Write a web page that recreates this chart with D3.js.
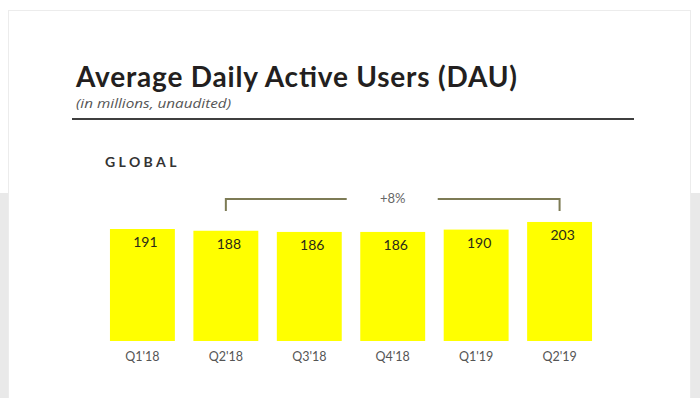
<!DOCTYPE html>
<html>
<head>
<meta charset="utf-8">
<script src="https://cdn.jsdelivr.net/npm/d3@7"></script>
<style>
  html, body { margin: 0; padding: 0; background: #ffffff; }
  svg { display: block; }
</style>
</head>
<body>
<svg id="chart" width="700" height="398"></svg>
<script>
const categories = ["Q1'18", "Q2'18", "Q3'18", "Q4'18", "Q1'19", "Q2'19"];
const dau = [191, 188, 186, 186, 190, 203];
const growthLabel = "+8%";
const growthFrom = "Q2'18";
const growthTo = "Q2'19";
const title = "Average Daily Active Users (DAU)";
const subtitle = "(in millions, unaudited)";
const region = "GLOBAL";

const svg = d3.select("#chart");
const W = 700, H = 398;

// page background / card
svg.append("rect").attr("x", 0).attr("y", 193).attr("width", W).attr("height", H - 193).attr("fill", "#e9e9e9");
svg.append("rect").attr("x", 8.5).attr("y", 10.5).attr("width", 682).attr("height", H)
  .attr("fill", "#ffffff").attr("stroke", "#ececec").attr("stroke-width", 1);

const font = "Lato, 'Open Sans', sans-serif";

// title
svg.append("text").attr("x", 76).attr("y", 87)
  .attr("font-family", font).attr("font-size", 28).attr("font-weight", 700)
  .attr("textLength", 441).attr("lengthAdjust", "spacing")
  .attr("fill", "#231f20").text(title);
svg.append("text").attr("x", 76).attr("y", 108)
  .attr("font-family", "'Open Sans', sans-serif").attr("font-size", 13.5).attr("font-style", "italic")
  .attr("textLength", 155).attr("lengthAdjust", "spacingAndGlyphs")
  .attr("fill", "#555").text(subtitle);
svg.append("line").attr("x1", 72).attr("x2", 634).attr("y1", 119).attr("y2", 119)
  .attr("stroke", "#3f3f3f").attr("stroke-width", 2);

svg.append("text").attr("x", 105).attr("y", 167)
  .attr("font-family", font).attr("font-size", 14).attr("font-weight", 700)
  .attr("letter-spacing", 3.4).attr("fill", "#333").text(region);

// scales
const x = d3.scaleBand().domain(categories).range([100.7, 601.3]).paddingInner(0.222).paddingOuter(0.111);
const y = d3.scaleLinear().domain([0, 220]).range([341, 212]);

const data = categories.map((c, i) => ({ c, v: dau[i] }));

svg.append("g").selectAll("rect").data(data).join("rect")
  .attr("x", d => x(d.c)).attr("width", x.bandwidth())
  .attr("y", d => y(d.v)).attr("height", d => y(0) - y(d.v))
  .attr("fill", "#ffff00");

svg.append("g").selectAll("text").data(data).join("text")
  .attr("x", d => x(d.c) + x.bandwidth() / 2 + 3)
  .attr("y", d => y(d.v) + 18)
  .attr("text-anchor", "middle")
  .attr("font-family", font).attr("font-size", 14)
  .attr("fill", "#2a2a1a").text(d => d.v);

// x axis labels
const xAxis = d3.axisBottom(x).tickSize(0).tickPadding(0);
const gx = svg.append("g").attr("transform", "translate(0,350)").call(xAxis);
gx.select(".domain").remove();
gx.selectAll("text").attr("font-family", font).attr("font-size", 12.5).attr("fill", "#555").attr("dy", "0.9em");

// bracket
const bx1 = x(growthFrom) + x.bandwidth() / 2;
const bx2 = x(growthTo) + x.bandwidth() / 2;
const by = 199, byEnd = 211;
const mid = (bx1 + bx2) / 2;
const bracketColor = "#7d7b55";
svg.append("path")
  .attr("d", `M${bx1},${byEnd}V${by}H${mid - 46}`)
  .attr("fill", "none").attr("stroke", bracketColor).attr("stroke-width", 2);
svg.append("path")
  .attr("d", `M${mid + 45},${by}H${bx2}V${byEnd}`)
  .attr("fill", "none").attr("stroke", bracketColor).attr("stroke-width", 2);
svg.append("text").attr("x", mid).attr("y", 203)
  .attr("text-anchor", "middle").attr("font-family", font).attr("font-size", 13)
  .attr("fill", "#666").text(growthLabel);
</script>
</body>
</html>
